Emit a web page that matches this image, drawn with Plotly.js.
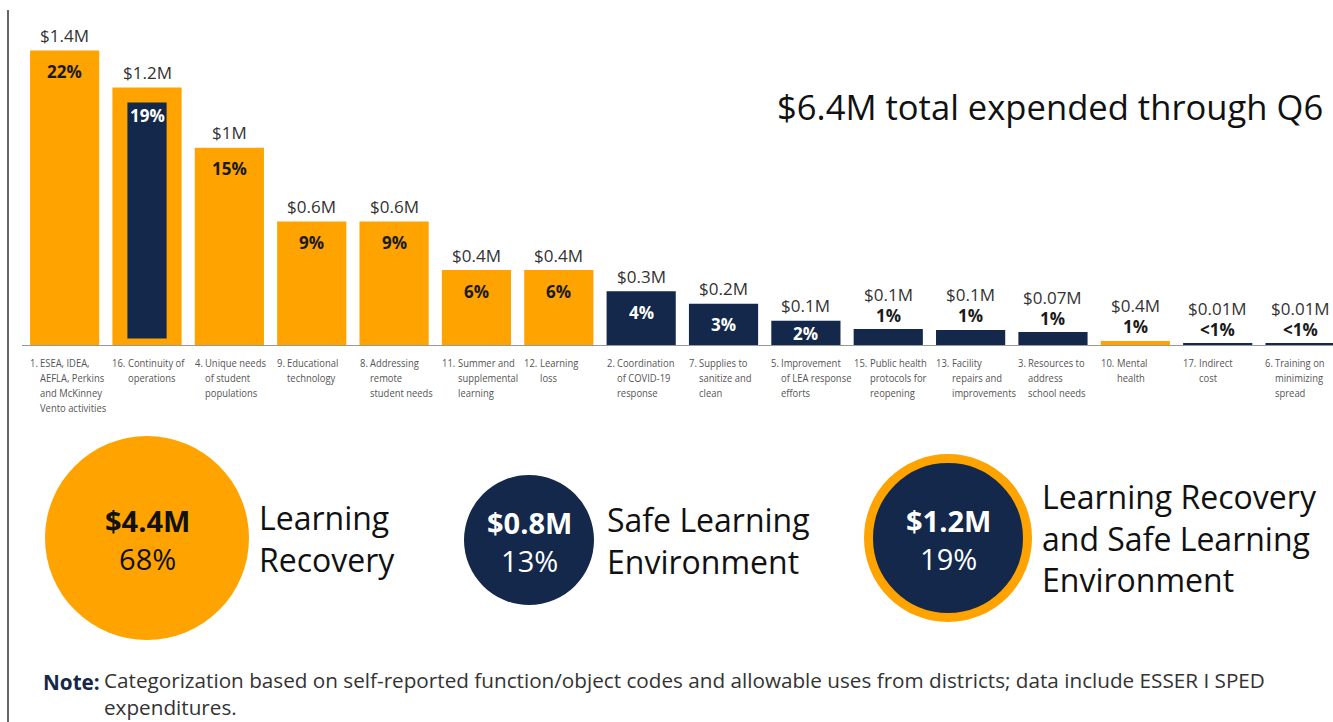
<!DOCTYPE html>
<html>
<head>
<meta charset="utf-8">
<script src="https://cdn.plot.ly/plotly-3.0.1.min.js"></script>
<style>html,body{margin:0;padding:0;background:#fff;}#chart{width:1333px;height:722px;}</style>
</head>
<body>
<div id="chart"></div>
<script>
// ---------------- data ----------------
const catNums = ["1.","16.","4.","9.","8.","11.","12.","2.","7.","5.","15.","13.","3.","10.","17.","6."];
const catLabels = [
  "ESEA, IDEA,<br>AEFLA, Perkins<br>and McKinney<br>Vento activities",
  "Continuity of<br>operations",
  "Unique needs<br>of student<br>populations",
  "Educational<br>technology",
  "Addressing<br>remote<br>student needs",
  "Summer and<br>supplemental<br>learning",
  "Learning<br>loss",
  "Coordination<br>of COVID-19<br>response",
  "Supplies to<br>sanitize and<br>clean",
  "Improvement<br>of LEA response<br>efforts",
  "Public health<br>protocols for<br>reopening",
  "Facility<br>repairs and<br>improvements",
  "Resources to<br>address<br>school needs",
  "Mental<br>health",
  "Indirect<br>cost",
  "Training on<br>minimizing<br>spread"
];
const amounts = [1.4, 1.19, 0.94, 0.59, 0.59, 0.36, 0.36, 0.26, 0.2, 0.12, 0.08, 0.076, 0.066, 0.024, 0.014, 0.014];
const amountLabels = ["$1.4M","$1.2M","$1M","$0.6M","$0.6M","$0.4M","$0.4M","$0.3M","$0.2M","$0.1M","$0.1M","$0.1M","$0.07M","$0.4M","$0.01M","$0.01M"];
const pctLabels = ["22%","19%","15%","9%","9%","6%","6%","4%","3%","2%","1%","1%","1%","1%","<1%","<1%"];
const groups = ["LR","Both","LR","LR","LR","LR","LR","SLE","SLE","SLE","SLE","SLE","SLE","LR","SLE","SLE"];

const headline = "$6.4M total expended through Q6";
const summaryAmounts = ["$4.4M","$0.8M","$1.2M"];
const summaryPcts = ["68%","13%","19%"];
const summaryNames = ["Learning<br>Recovery","Safe Learning<br>Environment","Learning Recovery<br>and Safe Learning<br>Environment"];
const summaryGroups = ["LR","SLE","Both"];
const noteLabel = "Note:";
const noteLines = ["Categorization based on self-reported function/object codes and allowable uses from districts; data include ESSER I SPED", "expenditures."];

// ---------------- style ----------------
const ORANGE = "#FFA300";
const NAVY = "#13284A";
const FONT = "Open Sans, Noto Sans, sans-serif";
const L = 21, T = 20, PW = 1312, PH = 326, W = 1333, H = 722;
const pxX = x => (x - L) / PW;
const pxY = y => (T + PH - y) / PH;
const PXPERM = PH / 1.545;
const BOTH_LINE = 15;
const CAT_SCALE = 0.82;

const fill = groups.map(g => g === "LR" ? ORANGE : NAVY);
const lineW = groups.map(g => g === "Both" ? BOTH_LINE : 0);
const widths = groups.map(g => g === "Both" ? 0.84 - BOTH_LINE / 82.4 : 0.84);
const xs = amounts.map((_, i) => i);

const trace = {
  type: "bar", x: xs, y: amounts, width: widths,
  marker: {color: fill, line: {color: ORANGE, width: lineW}},
  hoverinfo: "skip", textposition: "none"
};

const ann = [];
const catIdx = [];
amounts.forEach((v, i) => {
  const hpx = v * PXPERM;
  const extra = lineW[i] / 2;
  const inside = v >= 0.1;
  const pctColor = (inside && groups[i] !== "LR") ? "#ffffff" : "#1a1a1a";
  if (inside) {
    ann.push({x: i, y: v, xref: "x", yref: "y", text: amountLabels[i], showarrow: false,
      yanchor: "middle", yshift: 15 + extra, font: {family: FONT, size: 17, color: "#333"}});
    ann.push({x: i, y: v, xref: "x", yref: "y", text: "<b>" + pctLabels[i] + "</b>", showarrow: false,
      yanchor: "middle", yshift: -Math.min(21, hpx / 2), font: {family: FONT, size: 17, color: pctColor}});
  } else {
    ann.push({x: i, y: v, xref: "x", yref: "y", text: amountLabels[i], showarrow: false,
      yanchor: "middle", yshift: 35, font: {family: FONT, size: 17, color: "#333"}});
    ann.push({x: i, y: v, xref: "x", yref: "y", text: "<b>" + pctLabels[i] + "</b>", showarrow: false,
      yanchor: "middle", yshift: 14, font: {family: FONT, size: 17, color: pctColor}});
  }
  // category labels: number + hanging-indented text
  catIdx.push(ann.length);
  ann.push({x: i - 0.42, y: pxY(353), xref: "x", yref: "paper", text: catNums[i], showarrow: false,
    xanchor: "left", yanchor: "top", align: "left", xshift: -2, font: {family: FONT, size: 11.5, color: "#555"}});
  catIdx.push(ann.length);
  ann.push({x: i - 0.42, y: pxY(353), xref: "x", yref: "paper", text: catLabels[i], showarrow: false,
    xanchor: "left", yanchor: "top", align: "left", xshift: catNums[i].length > 2 ? 14 : 8,
    font: {family: FONT, size: 11.5, color: "#555"}});
});

// headline
ann.push({x: pxX(1325), y: pxY(106), xref: "paper", yref: "paper", text: headline, showarrow: false,
  xanchor: "right", yanchor: "middle", font: {family: FONT, size: 34.6, color: "#111"}});

// summary circles
const circ = [
  {cx: 147, cy: 538, r: 102, lx: 257},
  {cx: 529, cy: 540, r: 65, lx: 605},
  {cx: 948, cy: 538, r: 84, lx: 1040}
];
const shapes = [];
summaryGroups.forEach((g, k) => {
  const c = circ[k];
  const both = g === "Both";
  const r = both ? c.r - 4.5 : c.r;
  shapes.push({type: "circle", xref: "paper", yref: "paper", xsizemode: "pixel", ysizemode: "pixel",
    xanchor: pxX(c.cx), yanchor: pxY(c.cy), x0: -r, x1: r, y0: -r, y1: r,
    fillcolor: g === "LR" ? ORANGE : NAVY,
    line: {color: ORANGE, width: both ? 9 : 0}, layer: "above"});
  const tc = g === "LR" ? "#111" : "#fff";
  ann.push({x: pxX(c.cx), y: pxY(c.cy + 1), xref: "paper", yref: "paper", showarrow: false,
    text: "<b>" + summaryAmounts[k] + "</b><br>" + summaryPcts[k], align: "center",
    xanchor: "center", yanchor: "middle", font: {family: FONT, size: 29, color: tc}});
  ann.push({x: pxX(c.lx), y: pxY(c.cy), xref: "paper", yref: "paper", showarrow: false,
    text: summaryNames[k], align: "left", xanchor: "left", yanchor: "middle",
    font: {family: FONT, size: 32, color: "#111"}});
});

// note
ann.push({x: pxX(41), y: pxY(682), xref: "paper", yref: "paper", showarrow: false,
  text: "<b>" + noteLabel + "</b>", xanchor: "left", yanchor: "middle",
  font: {family: FONT, size: 20.7, color: NAVY}});
ann.push({x: pxX(103), y: pxY(722), xref: "paper", yref: "paper", showarrow: false, borderpad: 0,
  text: noteLines.join("<br>"), xanchor: "left", yanchor: "bottom", align: "left",
  font: {family: FONT, size: 20.7, color: "#333"}});

// baseline and left rule
shapes.push({type: "line", xref: "paper", yref: "y", x0: pxX(22), x1: 1, y0: 0, y1: 0,
  line: {color: "#999", width: 2}, layer: "above"});
shapes.push({type: "line", xref: "paper", yref: "paper", x0: pxX(8), x1: pxX(8), y0: pxY(10), y1: pxY(722),
  line: {color: "#000", width: 1.2}});

const layout = {
  width: W, height: H,
  margin: {l: L, r: W - L - PW, t: T, b: H - T - PH, pad: 0},
  paper_bgcolor: "#fff", plot_bgcolor: "#fff",
  showlegend: false,
  bargap: 0,
  xaxis: {range: [-0.53, 15.4], showticklabels: false, ticks: "", showgrid: false, zeroline: false, showline: false, fixedrange: true},
  yaxis: {range: [0, 1.545], showticklabels: false, ticks: "", showgrid: false, zeroline: false, showline: false, fixedrange: true},
  annotations: ann, shapes: shapes
};

Plotly.newPlot("chart", [trace], layout, {displayModeBar: false, staticPlot: true}).then(gd => {
  catIdx.forEach(k => {
    const t = gd.querySelector('.annotation[data-index="' + k + '"] text');
    if (t) {
      t.style.transformBox = "fill-box";
      t.style.transformOrigin = "0 0";
      t.style.transform = "scaleX(" + CAT_SCALE + ")";
    }
  });
});
</script>
</body>
</html>
